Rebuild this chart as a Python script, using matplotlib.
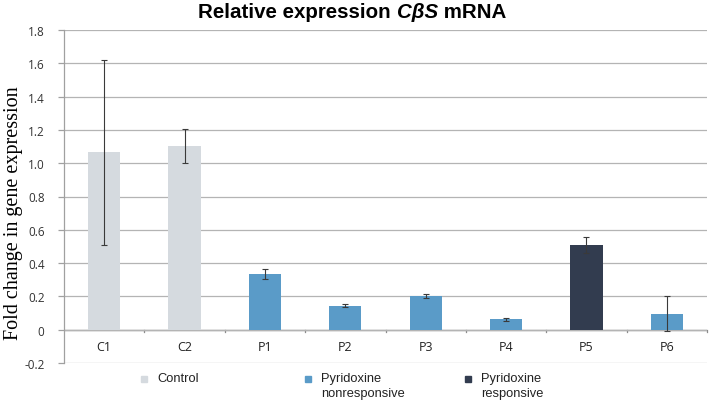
import matplotlib
matplotlib.use("Agg")
import matplotlib.pyplot as plt
from matplotlib.patches import Rectangle
from matplotlib.ticker import FuncFormatter

# values
samples = ['C1', 'C2', 'P1', 'P2', 'P3', 'P4', 'P5', 'P6']
groups = ['ctrl', 'ctrl', 'non', 'non', 'non', 'non', 'resp', 'non']
fold_change = [1.065, 1.105, 0.335, 0.145, 0.202, 0.063, 0.507, 0.097]
errors = [0.555, 0.102, 0.028, 0.011, 0.013, 0.010, 0.047, 0.103]

group_names = ['ctrl', 'non', 'resp']
group_labels = ['Control', 'Pyridoxine\nnonresponsive', 'Pyridoxine\nresponsive']
group_colors = {'ctrl': '#d5dadf', 'non': '#5a9bc8', 'resp': '#323c4f'}

W, H = 709, 406
fig = plt.figure(figsize=(W / 100, H / 100), dpi=100)
ax = fig.add_axes([64 / W, 1 - 364 / H, 643 / W, 333 / H])

x = list(range(len(samples)))
cols = [group_colors[g] for g in groups]
ax.bar(x, fold_change, width=0.4, color=cols, zorder=2)
ax.errorbar(x, fold_change, yerr=errors, fmt='none', ecolor='#3a3a3a',
            elinewidth=0.8, capsize=2.5, capthick=0.8, zorder=3)

ax.set_xlim(-0.5, len(samples) - 0.5)
ax.set_ylim(-0.2, 1.8)
yt = [-0.2 + 0.2 * i for i in range(11)]
ax.set_yticks(yt)
ax.yaxis.set_major_formatter(FuncFormatter(lambda v, p: '0' if abs(v) < 1e-9 else '%.1f' % v))
ax.tick_params(axis='y', length=4, width=0.9, color='#a0a0a0', pad=10,
               labelsize=8.5, labelcolor='#333333')
for lab in ax.get_yticklabels():
    lab.set_fontfamily('Open Sans')
ax.set_xticks([])
ax.grid(axis='y', color='#b4b4b4', linewidth=0.9, zorder=0)

for s in ['top', 'right', 'bottom']:
    ax.spines[s].set_visible(False)
ax.spines['left'].set_color('#a0a0a0')
ax.spines['left'].set_linewidth(0.9)

# category axis sits on zero
ax.axhline(0, color='#8c8c8c', linewidth=1.0, zorder=1)
for b in range(1, len(samples) + 1):
    ax.plot([b - 0.5, b - 0.5], [0, -0.012], color='#8c8c8c', linewidth=0.9,
            clip_on=False, zorder=1)
for xi, name in zip(x, samples):
    ax.text(xi, -0.1, name, ha='center', va='center', fontsize=9,
            family='Open Sans', color='#222222')

ax.set_ylabel('Fold change in gene expression', family='Liberation Serif',
              fontsize=14.5, va='center')
ax.yaxis.set_label_coords(-0.078, 0.453)

# title with italic gene name
fig.canvas.draw()
r = fig.canvas.get_renderer()
ty = 1 - 13 / H
parts = [('Relative expression ', 'normal'), ('C\u03b2S', 'italic'), (' mRNA', 'normal')]
texts = []
for s, st in parts:
    t = fig.text(0, ty, s, fontsize=14.8, fontweight='bold', style=st,
                 family='Liberation Sans', va='center', ha='left')
    texts.append(t)
widths = [t.get_window_extent(r).width for t in texts]
xpos = 352 - sum(widths) / 2
for t, w in zip(texts, widths):
    t.set_x(xpos / W)
    xpos += w

# legend below the plot
leg_x = [144, 308, 468]
for gx, g, lab in zip(leg_x, group_names, group_labels):
    fig.patches.append(Rectangle(((gx - 3) / W, 1 - 383 / H), 6 / W, 6 / H,
                                 transform=fig.transFigure, color=group_colors[g]))
    fig.text((gx + 13) / W, 1 - 373 / H, lab, fontsize=9.3, family='Liberation Sans',
             va='top', ha='left', color='#222222', linespacing=1.3)

fig.savefig('out.png', dpi=100)
